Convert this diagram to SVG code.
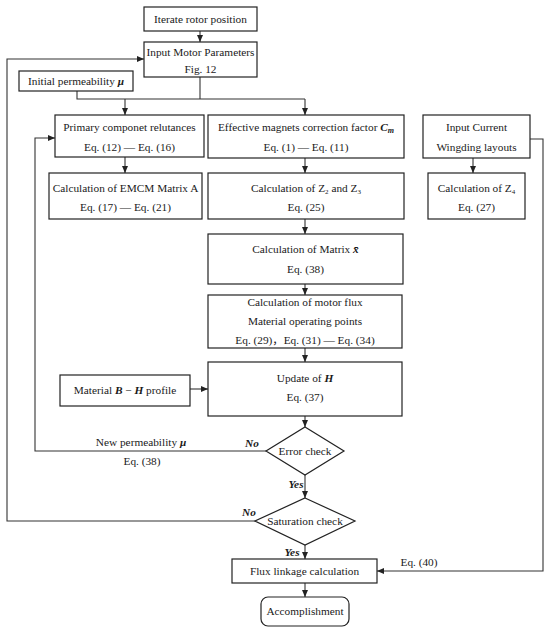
<svg xmlns="http://www.w3.org/2000/svg" width="550" height="631" viewBox="0 0 550 631">
<style>
text{font-family:"Liberation Serif","Noto Sans CJK SC",serif;font-size:11.3px;fill:#1a1a1a;text-anchor:middle}
.b{fill:#fff;stroke:#222;stroke-width:1.2}
.c{fill:none;stroke:#333;stroke-width:1.1}
.bi{font-weight:bold;font-style:italic}
</style>
<defs>
<marker id="a" markerWidth="7" markerHeight="6" refX="7" refY="3" orient="auto" markerUnits="userSpaceOnUse">
<path d="M0,0 L7,3 L0,6 z" fill="#222"/>
</marker>
</defs>
<rect width="550" height="631" fill="#fff"/>
<g id="connectors" class="c">
<path class="c" d="M200,31 V42" marker-end="url(#a)"/>
<path class="c" d="M77,91 V99 H305"/>
<path class="c" d="M200,77 V99"/>
<path class="c" d="M125,99 V115" marker-end="url(#a)"/>
<path class="c" d="M305,99 V115" marker-end="url(#a)"/>
<path class="c" d="M125,157 V173" marker-end="url(#a)"/>
<path class="c" d="M305,158 V173" marker-end="url(#a)"/>
<path class="c" d="M473,158 V173" marker-end="url(#a)"/>
<path class="c" d="M305,219 V234" marker-end="url(#a)"/>
<path class="c" d="M305,284 V295" marker-end="url(#a)"/>
<path class="c" d="M305,348 V362" marker-end="url(#a)"/>
<path class="c" d="M190,389 H208" marker-end="url(#a)"/>
<path class="c" d="M305,416 V427" marker-end="url(#a)"/>
<path class="c" d="M305,475 V498" marker-end="url(#a)"/>
<path class="c" d="M305,545 V559" marker-end="url(#a)"/>
<path class="c" d="M305,583 V597" marker-end="url(#a)"/>
<path class="c" d="M266,451 H35 V138 H55" marker-end="url(#a)"/>
<path class="c" d="M255,521 H7 V59 H144" marker-end="url(#a)"/>
<path class="c" d="M530,139 H543 V571 H377" marker-end="url(#a)"/>
</g>
<g id="n-iterate"><rect class="b" x="144" y="7" width="113" height="24"/><text x="200.5" y="23">Iterate rotor position</text></g>
<g id="n-input"><rect class="b" x="144" y="42" width="113" height="35"/><text x="200.5" y="56">Input Motor Parameters</text><text x="200.5" y="73">Fig. 12</text></g>
<g id="n-initperm"><rect class="b" x="19" y="71" width="114" height="20"/><text x="76" y="85">Initial permeability <tspan class="bi">μ</tspan></text></g>
<g id="n-primary"><rect class="b" x="55" y="115" width="149" height="42"/><text x="129.5" y="131">Primary componet relutances</text><text x="129.5" y="151">Eq. (12) — Eq. (16)</text></g>
<g id="n-emcm"><rect class="b" x="49" y="173" width="153" height="46"/><text x="125.5" y="192">Calculation of EMCM Matrix A</text><text x="125.5" y="211">Eq. (17) — Eq. (21)</text></g>
<g id="n-effective"><rect class="b" x="208" y="115" width="196" height="43"/><text x="306" y="131">Effective magnets correction factor <tspan class="bi">C</tspan><tspan class="bi" font-size="8" dy="2">m</tspan></text><text x="306" y="151">Eq. (1) — Eq. (11)</text></g>
<g id="n-current"><rect class="b" x="423" y="115" width="107" height="43"/><text x="476.5" y="131">Input Current</text><text x="476.5" y="151">Wingding layouts</text></g>
<g id="n-z23"><rect class="b" x="208" y="173" width="196" height="46"/><text x="306" y="192">Calculation of Z<tspan font-size="7" dy="2">2</tspan><tspan dy="-2"> and Z</tspan><tspan font-size="7" dy="2">3</tspan></text><text x="306" y="211">Eq. (25)</text></g>
<g id="n-z4"><rect class="b" x="428" y="173" width="97" height="46"/><text x="476.5" y="192">Calculation of Z<tspan font-size="7" dy="2">4</tspan></text><text x="476.5" y="211">Eq. (27)</text></g>
<g id="n-matrix"><rect class="b" x="208" y="234" width="195" height="50"/><text x="305.5" y="253">Calculation of Matrix <tspan class="bi">x̄</tspan></text><text x="305.5" y="273">Eq. (38)</text></g>
<g id="n-flux"><rect class="b" x="208" y="295" width="194" height="53"/><text x="305" y="306">Calculation of motor flux</text><text x="305" y="325">Material operating points</text><text x="305" y="344">Eq. (29)，Eq. (31) — Eq. (34)</text></g>
<g id="n-bh"><rect class="b" x="60" y="375" width="130" height="31"/><text x="125" y="394">Material <tspan class="bi">B</tspan> − <tspan class="bi">H</tspan> profile</text></g>
<g id="n-update"><rect class="b" x="208" y="362" width="194" height="54"/><text x="305" y="382">Update of <tspan class="bi">H</tspan></text><text x="305" y="401">Eq. (37)</text></g>
<g id="n-error"><polygon class="b" points="305,427 344,451 305,475 266,451"/><text x="305" y="455">Error check</text></g>
<g id="n-sat"><polygon class="b" points="305,498 355,521 305,545 255,521"/><text x="305" y="525">Saturation check</text></g>
<g id="n-linkage"><rect class="b" x="232" y="559" width="145" height="24"/><text x="304.5" y="575">Flux linkage calculation</text></g>
<g id="n-done"><rect class="b" x="261" y="597" width="88" height="29" rx="7"/><text x="305" y="615">Accomplishment</text></g>
<g id="labels">
<text x="141" y="446">New permeability <tspan class="bi">μ</tspan></text>
<text x="142" y="465">Eq. (38)</text>
<text class="bi" x="252" y="447">No</text>
<text class="bi" x="249" y="516">No</text>
<text class="bi" x="296" y="488">Yes</text>
<text class="bi" x="292" y="556">Yes</text>
<text x="419" y="566">Eq. (40)</text>
</g>
</svg>
